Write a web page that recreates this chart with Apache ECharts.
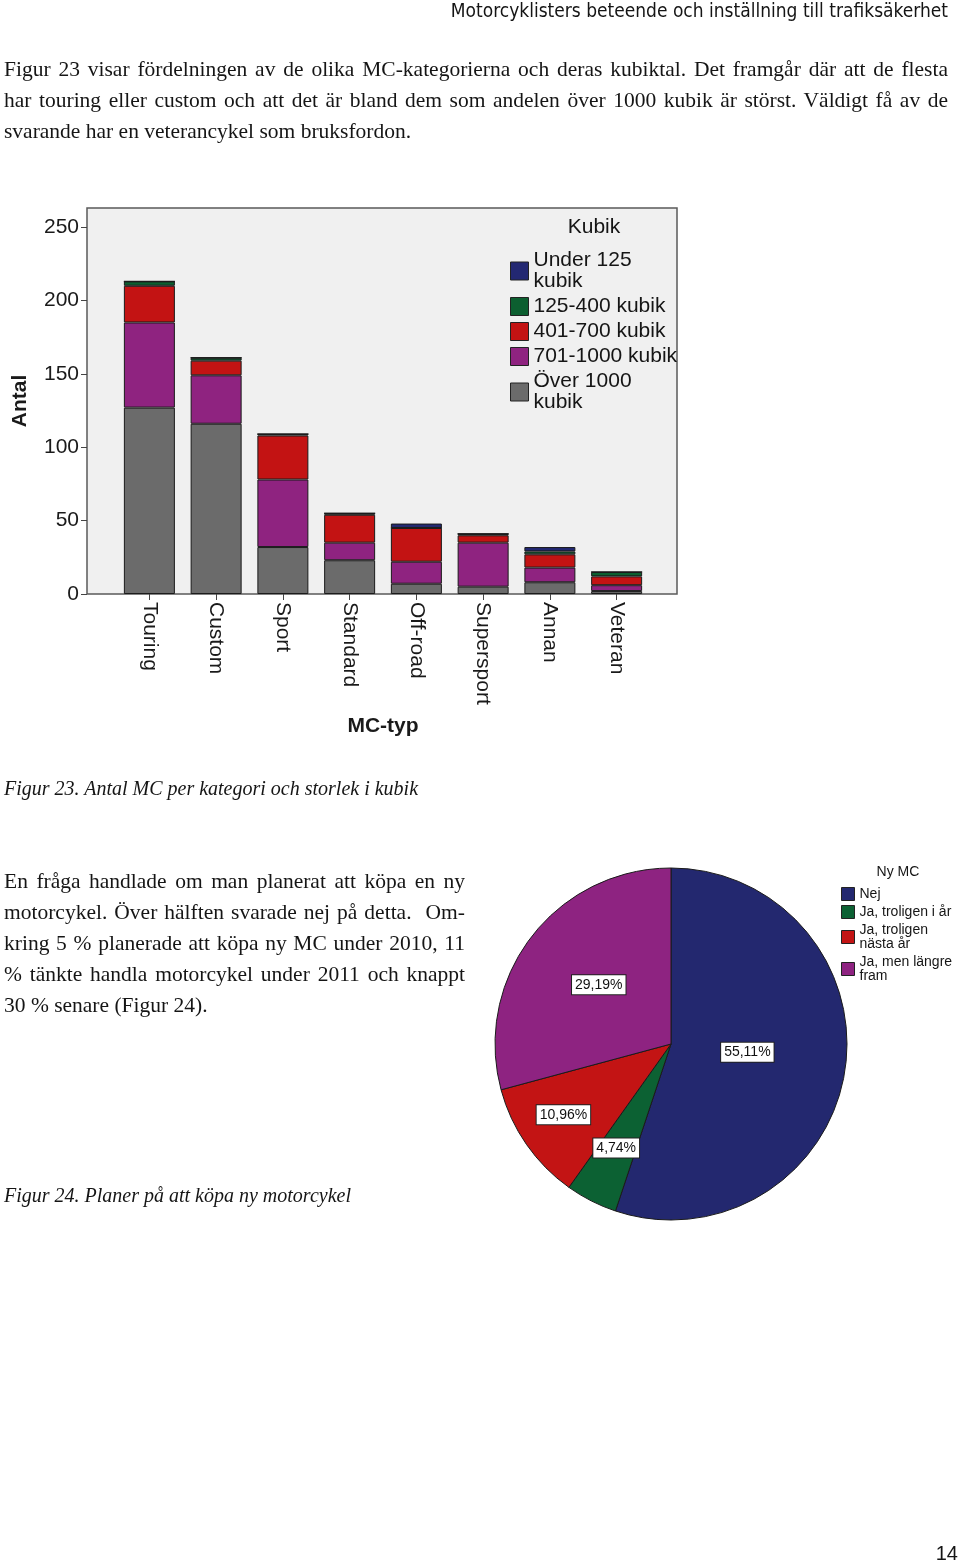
<!DOCTYPE html>
<html>
<head>
<meta charset="utf-8">
<script src="https://cdn.jsdelivr.net/npm/echarts@6/dist/echarts.min.js"></script>
<style>
    body { margin: 0; background: #fff; }
    #page { position: relative; width: 960px; height: 1564px; overflow: hidden; }
    #chart { position: absolute; left: 0; top: 0; width: 960px; height: 1564px; }
    .txt {
        position: absolute;
        font-family: 'Liberation Serif', serif;
        font-size: 21.5px;
        line-height: 31px;
        color: #151515;
    }
    .txt span { display: block; white-space: nowrap; }
    .txt span.j { text-align: justify; text-align-last: justify; white-space: normal; }
    .cap { font-style: italic; font-size: 20px; }
    .head {
        position: absolute;
        right: 12px;
        top: 0;
        line-height: 20px;
        font-family: 'Liberation Sans Narrow', 'DejaVu Sans Condensed', sans-serif;
        font-size: 19px;
        color: #151515;
    }
    .pnum {
        position: absolute;
        right: 2px;
        top: 1542px;
        line-height: 22px;
        font-family: 'Liberation Sans', sans-serif;
        font-size: 20px;
        color: #151515;
    }
</style>
</head>
<body>
<div id="page">
    <div id="chart"></div>
    <div class="head">Motorcyklisters beteende och inställning till trafiksäkerhet</div>
    <div class="txt" style="left:4px; top:54px; width:944px;">
        <span class="j">Figur 23 visar fördelningen av de olika MC-kategorierna och deras kubiktal. Det framgår där att de flesta</span>
        <span class="j">har touring eller custom och att det är bland dem som andelen över 1000 kubik är störst. Väldigt få av de</span>
        <span>svarande har en veterancykel som bruksfordon.</span>
    </div>
    <div class="txt cap" style="left:4px; top:773px;">Figur 23. Antal MC per kategori och storlek i kubik</div>
    <div class="txt" style="left:4px; top:866px; width:461px;">
        <span class="j">En fråga handlade om man planerat att köpa en ny</span>
        <span class="j">motorcykel. Över hälften svarade nej på detta.&nbsp; Om-</span>
        <span class="j">kring 5 % planerade att köpa ny MC under 2010, 11</span>
        <span class="j">% tänkte handla motorcykel under 2011 och knappt</span>
        <span>30 % senare (Figur 24).</span>
    </div>
    <div class="txt cap" style="left:4px; top:1180px;">Figur 24. Planer på att köpa ny motorcykel</div>
    <div class="pnum">14</div>
</div>
<script>
// MC-typ och kubik (antal svarande)
const categories = ['Touring', 'Custom', 'Sport', 'Standard', 'Off-road', 'Supersport', 'Annan', 'Veteran'];
const under125 = [0, 0, 0, 0, 3, 0, 3, 0];
const cc125to400 = [3, 2, 1, 1, 0, 1, 2, 3];
const cc401to700 = [25, 10, 30, 19, 23, 5, 9, 6];
const cc701to1000 = [58, 33, 46, 12, 15, 30, 10, 4];
const over1000 = [127, 116, 32, 23, 7, 5, 8, 2];
const yTicks = [0, 50, 100, 150, 200, 250];

// Ny MC (procent)
const pieNames = ['Nej', 'Ja, troligen i år', 'Ja, troligen\nnästa år', 'Ja, men längre\nfram'];
const pieValues = [55.11, 4.74, 10.96, 29.19];

const FONT = 'Liberation Sans';
const chart = echarts.init(document.getElementById('chart'));

const barSeries = [
    { name: 'Över 1000\nkubik', data: over1000, color: '#6b6b6b' },
    { name: '701-1000 kubik', data: cc701to1000, color: '#8f2380' },
    { name: '401-700 kubik', data: cc401to700, color: '#c31313' },
    { name: '125-400 kubik', data: cc125to400, color: '#0c5f30' },
    { name: 'Under 125\nkubik', data: under125, color: '#232872' },
].map(s => ({
    name: s.name,
    type: 'bar',
    stack: 'kubik',
    xAxisIndex: 1,
    yAxisIndex: 1,
    barWidth: 51,
    data: s.data,
    itemStyle: { color: s.color, borderColor: '#1b1b1b', borderWidth: 1 },
    emphasis: { disabled: true },
}));

const pieColors = ['#23286f', '#0c6133', '#c31414', '#8e2381'];
// radial push of the inside labels, so they sit like in the original
const pieLabelPush = [0.85, 1.33, 1.44, 1.0];
const pieCenter = [671, 1044];

const option = {
    animation: false,
    textStyle: { fontFamily: FONT },
    grid: [
        { left: 87, top: 208, width: 590, height: 386, show: true, backgroundColor: '#f0f0f0', borderColor: '#5a5a5a', borderWidth: 1.5 },
        { left: 116, top: 208, width: 534, height: 386 },
    ],
    xAxis: [
        { gridIndex: 0, type: 'value', show: false },
        {
            gridIndex: 1,
            type: 'category',
            data: categories,
            axisLine: { show: false },
            axisTick: { show: true, alignWithLabel: true, length: 6, lineStyle: { color: '#444' } },
            axisLabel: { rotate: -90, fontSize: 21, color: '#1a1a1a', margin: 8, interval: 0 },
            name: 'MC-typ',
            nameLocation: 'middle',
            nameGap: 122,
            nameTextStyle: { fontSize: 21, fontWeight: 'bold', color: '#1a1a1a' },
        },
    ],
    yAxis: [
        { gridIndex: 0, type: 'value', show: false, min: 0, max: 1 },
        {
            gridIndex: 1,
            type: 'value',
            min: 0,
            max: 263,
            offset: 29,
            axisLine: { show: false },
            axisTick: { show: true, length: 6, customValues: yTicks, lineStyle: { color: '#444' } },
            axisLabel: { customValues: yTicks, fontSize: 21, color: '#1a1a1a', margin: 8 },
            splitLine: { show: false },
            name: 'Antal',
            nameLocation: 'middle',
            nameRotate: 90,
            nameGap: 56,
            nameTextStyle: { fontSize: 21, fontWeight: 'bold', color: '#1a1a1a' },
        },
    ],
    legend: [
        {
            data: barSeries.map(s => s.name).reverse(),
            orient: 'vertical',
            left: 510,
            top: 250,
            padding: 0,
            icon: 'rect',
            itemWidth: 18,
            itemHeight: 18,
            itemGap: 4,
            selectedMode: false,
            itemStyle: { borderColor: '#222', borderWidth: 1 },
            textStyle: { fontSize: 21, lineHeight: 21, color: '#151515' },
        },
        {
            data: pieNames,
            orient: 'vertical',
            left: 841,
            top: 887,
            padding: 0,
            icon: 'rect',
            itemWidth: 13,
            itemHeight: 13,
            itemGap: 4,
            selectedMode: false,
            itemStyle: { borderColor: '#222', borderWidth: 1 },
            textStyle: { fontSize: 14, lineHeight: 14, color: '#151515' },
        },
    ],
    graphic: [
        { type: 'text', x: 594, y: 227, style: { text: 'Kubik', font: '21px "Liberation Sans"', fill: '#151515', align: 'center', verticalAlign: 'middle' } },
        { type: 'text', x: 898, y: 872, style: { text: 'Ny MC', font: '14px "Liberation Sans"', fill: '#151515', align: 'center', verticalAlign: 'middle' } },
    ],
    series: [
        ...barSeries,
        {
            type: 'pie',
            center: pieCenter,
            radius: 176,
            startAngle: 90,
            clockwise: true,
            data: pieNames.map((n, i) => ({ name: n, value: pieValues[i], itemStyle: { color: pieColors[i] } })),
            itemStyle: { borderColor: '#1a1a1a', borderWidth: 1 },
            emphasis: { disabled: true },
            label: {
                position: 'inside',
                formatter: p => p.value.toFixed(2).replace('.', ',') + '%',
                fontSize: 14,
                color: '#111',
                backgroundColor: '#fff',
                borderColor: '#222',
                borderWidth: 1,
                padding: [3, 3, 2, 3],
            },
            labelLayout: p => {
                const r = p.labelRect;
                const k = pieLabelPush[p.dataIndex] - 1;
                return {
                    dx: (r.x + r.width / 2 - pieCenter[0]) * k,
                    dy: (r.y + r.height / 2 - pieCenter[1]) * k - 4,
                };
            },
        },
    ],
};

chart.setOption(option);
window.addEventListener('resize', () => chart.resize());
</script>
</body>
</html>
